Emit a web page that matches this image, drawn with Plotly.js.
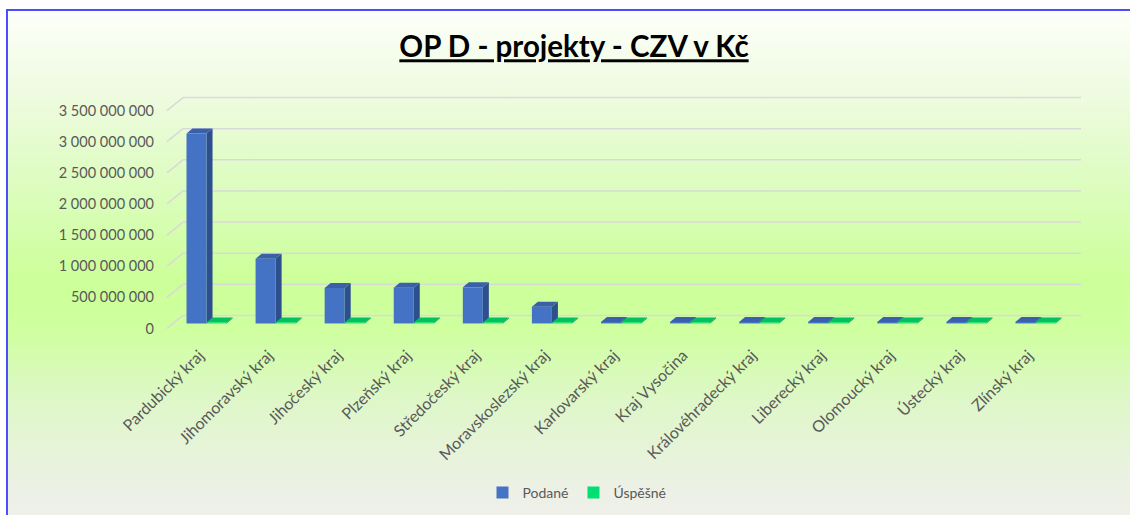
<!DOCTYPE html>
<html>
<head>
<meta charset="utf-8">
<script src="https://cdn.plot.ly/plotly-3.0.1.min.js"></script>
<style>
  html, body { margin: 0; padding: 0; background: #ffffff; overflow: hidden; }
  #frame {
    position: absolute; left: 6px; top: 9px; width: 1200px; height: 540px;
    border-left: 2px solid #4d4dff; border-top: 2px solid #4d4dff;
    background: linear-gradient(to bottom,
      #fdfff9 0%, #eefbdf 16%, #dafdba 35%, #ccff99 50%, #cfff9f 59%,
      #def7c8 72%, #ebf1e3 87%, #eff0ea 93%, #f0f0ec 100%);
  }
  #chart { position: absolute; left: 0; top: 0; width: 1130px; height: 515px; }
</style>
</head>
<body>
<div id="frame"></div>
<div id="chart"></div>
<script>
// ---- data ----
const categories = ["Pardubický kraj", "Jihomoravský kraj", "Jihočeský kraj", "Plzeňský kraj",
  "Středočeský kraj", "Moravskoslezský kraj", "Karlovarský kraj", "Kraj Vysočina",
  "Královéhradecký kraj", "Liberecký kraj", "Olomoucký kraj", "Ústecký kraj", "Zlínský kraj"];
const podane = [3050000000, 1040000000, 570000000, 575000000, 580000000, 270000000,
  25000000, 25000000, 25000000, 25000000, 25000000, 25000000, 25000000];
const uspesne = [15000000, 15000000, 15000000, 15000000, 15000000, 15000000,
  15000000, 15000000, 15000000, 15000000, 15000000, 15000000, 15000000];
const yTicks = [0, 500000000, 1000000000, 1500000000, 2000000000, 2500000000, 3000000000, 3500000000];
const seriesNames = ["Podané", "Úspěšné"];

// ---- style ----
const W = 1130, H = 515;
const M = {l: 172, r: 60, t: 90, b: 176};
const yRange = [-250000000, 3750000000];
const plotW = W - M.l - M.r, plotH = H - M.t - M.b;
const unitsPerPx = (yRange[1] - yRange[0]) / plotH;
const bargap = 0.42;
const barW = (1 - bargap) / 2;            // category units per bar
const barWpx = barW * plotW / categories.length;
const sideDx = 6, sideDy = 5;             // 3D depth of the bars (px)
const gridColor = "#d9d9d9";
const fontFam = "Lato, 'Open Sans', sans-serif";
const txtColor = "#595959";

const colors = [
  {front: "#4472c4", side: "#2d4f8e", top: "#3a60aa"},
  {front: "#00e070", side: "#009a4a", top: "#00c25e"}
];

const shapes = [];
// back-wall gridlines with the oblique left edge
yTicks.forEach(t => {
  shapes.push({type: "line", layer: "below", xref: "paper", x0: 11 / plotW, x1: 909 / plotW,
    yref: "y", ysizemode: "pixel", yanchor: t, y0: 8, y1: 8,
    line: {color: gridColor, width: 1.5}});
  shapes.push({type: "line", layer: "below", xref: "paper", xsizemode: "pixel", xanchor: 0, x0: -5, x1: 11,
    yref: "y", ysizemode: "pixel", yanchor: t, y0: -5, y1: 8,
    line: {color: gridColor, width: 1.5}});
});

// 3D faces (side and top) for every bar, anchored on the data
const d = sideDy * unitsPerPx;
[podane, uspesne].forEach((vals, s) => {
  vals.forEach((v, i) => {
    const right = i - barW + (s + 1) * barW;   // right edge of the bar, category units
    shapes.push({type: "path", layer: "below", xref: "x", yref: "y", xsizemode: "pixel", xanchor: right,
      path: `M0,0 L${sideDx},${d} L${sideDx},${v + d} L0,${v} Z`,
      fillcolor: colors[s].side, line: {width: 0}});
    shapes.push({type: "path", layer: "below", xref: "x", yref: "y", xsizemode: "pixel", xanchor: right,
      path: `M${-barWpx},${v} L0,${v} L${sideDx},${v + d} L${sideDx - barWpx},${v + d} Z`,
      fillcolor: colors[s].top, line: {width: 0}});
  });
});

const traces = [podane, uspesne].map((vals, s) => ({
  type: "bar", name: seriesNames[s], x: categories, y: vals,
  marker: {color: colors[s].front, line: {width: 0}},
  hoverinfo: "skip"
}));

const layout = {
  width: W, height: H,
  margin: M,
  paper_bgcolor: "rgba(0,0,0,0)", plot_bgcolor: "rgba(0,0,0,0)",
  separators: ", ",
  barmode: "group", bargap: bargap, bargroupgap: 0,
  showlegend: true,
  title: {
    text: "<u>OP D - projekty - CZV v Kč</u>",
    font: {family: fontFam, size: 29.5, color: "#000000", weight: 700},
    x: 574 / W, xanchor: "center", xref: "container",
    y: 1 - 47 / H, yanchor: "middle", yref: "container"
  },
  xaxis: {
    type: "category", tickangle: -45, showgrid: false, zeroline: false, showline: false,
    ticks: "", tickfont: {family: fontFam, size: 16, color: txtColor},
    ticklabelstandoff: 3, ticklabelshift: -7
  },
  yaxis: {
    range: yRange, showgrid: false, zeroline: false, showline: false, ticks: "",
    tickvals: yTicks, tickformat: ",d",
    tickfont: {family: fontFam, size: 14.5, color: txtColor},
    ticklabelstandoff: 17, ticklabelshift: 5
  },
  legend: {
    orientation: "h", xref: "container", yref: "container",
    x: 577 / W, xanchor: "center", y: 1 - 493 / H, yanchor: "middle",
    font: {family: fontFam, size: 14, color: txtColor},
    bgcolor: "rgba(0,0,0,0)", itemwidth: 30
  },
  shapes: shapes
};

Plotly.newPlot("chart", traces, layout, {displayModeBar: false, staticPlot: true});
</script>
</body>
</html>
